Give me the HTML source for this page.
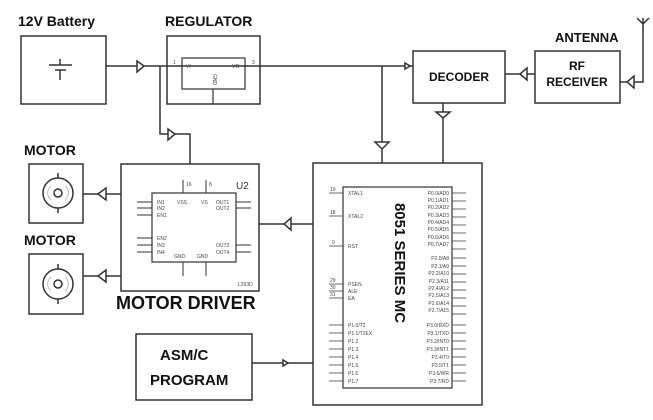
<!DOCTYPE html>
<html><head><meta charset="utf-8"><style>
html,body{margin:0;padding:0;background:#fff;}
svg{display:block;font-family:"Liberation Sans",Arial,sans-serif;}
.b{font-weight:bold;fill:#111;}
.s{font-size:5px;fill:#444;}
</style></head><body>
<svg width="653" height="420" viewBox="0 0 653 420" xmlns="http://www.w3.org/2000/svg">
<g fill="none" stroke="#333" stroke-width="1.5">
<rect x="21" y="36" width="85" height="68"/>
<line x1="49" y1="65" x2="72" y2="65"/><line x1="55" y1="70" x2="66" y2="70"/><line x1="60" y1="59" x2="60" y2="65"/><line x1="60" y1="70" x2="60" y2="80"/>
<rect x="167" y="36" width="93" height="68"/>
<rect x="182" y="58" width="63" height="31" stroke-width="1.2"/>
<line x1="213" y1="89" x2="213" y2="104" stroke-width="1.2"/>
<line x1="106" y1="66" x2="413" y2="66"/>
<polygon points="137,61 137,72 144,66" fill="#fff"/>
<polygon points="405,63 405,69 410,66" fill="#fff"/>
<polyline points="160,66 160,134 190,134 190,164"/>
<polygon points="168,129 168,140 175,134" fill="#fff"/>
<line x1="382" y1="66" x2="382" y2="163"/>
<polygon points="375,142 389,142 382,149" fill="#fff"/>
<rect x="413" y="51" width="92" height="52"/>
<line x1="443" y1="103" x2="443" y2="163"/>
<polygon points="436,112 450,112 443,118" fill="#fff"/>
<rect x="535" y="51" width="85" height="52"/>
<line x1="505" y1="74" x2="535" y2="74"/>
<polygon points="527,68 527,80 520,74" fill="#fff"/>
<polyline points="643,18 643,82 620,82"/>
<polyline points="637,18 643,24 649,18"/>
<polygon points="634,76 634,88 627,82" fill="#fff"/>
<rect x="29" y="164" width="54" height="59"/>
<circle cx="58" cy="193" r="15"/><circle cx="58" cy="193" r="4"/>
<line x1="58" y1="173" x2="58" y2="178"/><line x1="58" y1="208" x2="58" y2="213"/>
<rect x="29" y="254" width="54" height="60"/>
<circle cx="58" cy="284" r="15"/><circle cx="58" cy="284" r="4"/>
<line x1="58" y1="264" x2="58" y2="269"/><line x1="58" y1="299" x2="58" y2="304"/>
<g stroke="#aaa" stroke-width="0.8">
<path d="M51,186 A9,9 0 0 0 51,200"/><path d="M65,186 A9,9 0 0 1 65,200"/>
<path d="M51,277 A9,9 0 0 0 51,291"/><path d="M65,277 A9,9 0 0 1 65,291"/>
</g>
<line x1="83" y1="194" x2="121" y2="194"/>
<polygon points="106,188 106,200 98,194" fill="#fff"/>
<line x1="83" y1="276" x2="121" y2="276"/>
<polygon points="106,270 106,282 98,276" fill="#fff"/>
<rect x="121" y="164" width="138" height="127"/>
<rect x="152" y="193" width="84" height="69" stroke-width="1.2"/>
<g stroke-width="1">
<line x1="183" y1="180" x2="183" y2="193"/><line x1="206" y1="180" x2="206" y2="193"/>
<line x1="183" y1="262" x2="183" y2="276"/><line x1="206" y1="262" x2="206" y2="276"/>
<line x1="137" y1="202" x2="152" y2="202"/><line x1="137" y1="208" x2="152" y2="208"/><line x1="137" y1="215" x2="152" y2="215"/>
<line x1="137" y1="238" x2="152" y2="238"/><line x1="137" y1="245" x2="152" y2="245"/><line x1="137" y1="252" x2="152" y2="252"/>
<line x1="236" y1="202" x2="251" y2="202"/><line x1="236" y1="208" x2="251" y2="208"/>
<line x1="236" y1="245" x2="251" y2="245"/><line x1="236" y1="252" x2="251" y2="252"/>
</g>
<line x1="259" y1="224" x2="313" y2="224"/>
<polygon points="291,218 291,230 284,224" fill="#fff"/>
<rect x="313" y="163" width="169" height="242"/>
<rect x="343" y="187" width="109" height="201" stroke-width="1.2"/>
<rect x="136" y="334" width="116" height="66"/>
<line x1="252" y1="363" x2="313" y2="363"/>
<polygon points="283,360 283,366 288,363" fill="#fff"/>
</g>
<g stroke="#444" stroke-width="0.8">
<line x1="329" y1="193" x2="343" y2="193"/><line x1="329" y1="216" x2="343" y2="216"/><line x1="329" y1="246" x2="343" y2="246"/>
<line x1="329" y1="284" x2="343" y2="284"/><line x1="329" y1="291" x2="343" y2="291"/><line x1="329" y1="298" x2="343" y2="298"/>
<g id="p8l"><line x1="329" y1="325" x2="343" y2="325"/><line x1="329" y1="333" x2="343" y2="333"/><line x1="329" y1="341" x2="343" y2="341"/><line x1="329" y1="349" x2="343" y2="349"/><line x1="329" y1="357" x2="343" y2="357"/><line x1="329" y1="365" x2="343" y2="365"/><line x1="329" y1="373" x2="343" y2="373"/><line x1="329" y1="381" x2="343" y2="381"/></g>
<g transform="translate(123,-132)"><use href="#p8l"/></g>
<g transform="translate(123,-67)"><use href="#p8l"/></g>
<g transform="translate(123,0)"><use href="#p8l"/></g>
</g>
<g class="s">
<text x="348" y="195">XTAL1</text><text x="348" y="218">XTAL2</text><text x="348" y="248">RST</text>
<text x="348" y="286">PSEN</text><text x="348" y="293">ALE</text><text x="348" y="300">EA</text>
<text x="348" y="327">P1.0/T2</text><text x="348" y="335">P1.1/T2EX</text><text x="348" y="343">P1.2</text><text x="348" y="351">P1.3</text><text x="348" y="359">P1.4</text><text x="348" y="367">P1.5</text><text x="348" y="375">P1.6</text><text x="348" y="383">P1.7</text>
<g text-anchor="end">
<text x="449" y="195">P0.0/AD0</text><text x="449" y="202">P0.1/AD1</text><text x="449" y="209">P0.2/AD2</text><text x="449" y="217">P0.3/AD3</text><text x="449" y="224">P0.4/AD4</text><text x="449" y="231">P0.5/AD5</text><text x="449" y="239">P0.6/AD6</text><text x="449" y="246">P0.7/AD7</text>
<text x="449" y="260">P2.0/A8</text><text x="449" y="268">P2.1/A9</text><text x="449" y="275">P2.2/A10</text><text x="449" y="283">P2.3/A11</text><text x="449" y="290">P2.4/A12</text><text x="449" y="297">P2.5/A13</text><text x="449" y="305">P2.6/A14</text><text x="449" y="312">P2.7/A15</text>
<text x="449" y="327">P3.0/RXD</text><text x="449" y="335">P3.1/TXD</text><text x="449" y="343">P3.2/INT0</text><text x="449" y="351">P3.3/INT1</text><text x="449" y="359">P3.4/T0</text><text x="449" y="367">P3.5/T1</text><text x="449" y="375">P3.6/WR</text><text x="449" y="383">P3.7/RD</text>
</g>
<text x="330" y="191">19</text><text x="330" y="214">18</text><text x="332" y="244">9</text><text x="330" y="282">29</text><text x="330" y="289">30</text><text x="330" y="296">31</text>
<text x="157" y="204">IN1</text><text x="157" y="210">IN2</text><text x="157" y="217">EN1</text>
<text x="157" y="240">EN2</text><text x="157" y="247">IN3</text><text x="157" y="254">IN4</text>
<text x="177" y="204">VSS</text><text x="201" y="204">VS</text><text x="174" y="258">GND</text><text x="197" y="258">GND</text>
<text x="216" y="204">OUT1</text><text x="216" y="210">OUT2</text><text x="216" y="247">OUT3</text><text x="216" y="254">OUT4</text>
<text x="186" y="186">16</text><text x="209" y="186">8</text>
<text x="238" y="286">L293D</text>
<text x="186" y="68">VI</text><text x="232" y="68">VO</text><text x="173" y="64">1</text><text x="252" y="64">3</text>
</g>
<text x="236" y="189" font-size="10" fill="#333">U2</text>
<text x="213" y="74" font-size="5" fill="#444" transform="rotate(90 213 74)">GND</text>
<g class="b">
<text x="18" y="26" font-size="14">12V Battery</text>
<text x="165" y="26" font-size="14">REGULATOR</text>
<text x="555" y="42" font-size="13">ANTENNA</text>
<text x="459" y="81" font-size="12" text-anchor="middle">DECODER</text>
<text x="577" y="70" font-size="12" text-anchor="middle">RF</text>
<text x="577" y="86" font-size="12" text-anchor="middle">RECEIVER</text>
<text x="24" y="155" font-size="14">MOTOR</text>
<text x="24" y="245" font-size="14">MOTOR</text>
<text x="116" y="309" font-size="18">MOTOR DRIVER</text>
<text x="160" y="360" font-size="15">ASM/C</text>
<text x="150" y="385" font-size="15">PROGRAM</text>
<text x="390" y="268" font-size="15" text-anchor="middle" transform="rotate(90 395 268)">8051 SERIES MC</text>
</g>
</svg>
</body></html>
